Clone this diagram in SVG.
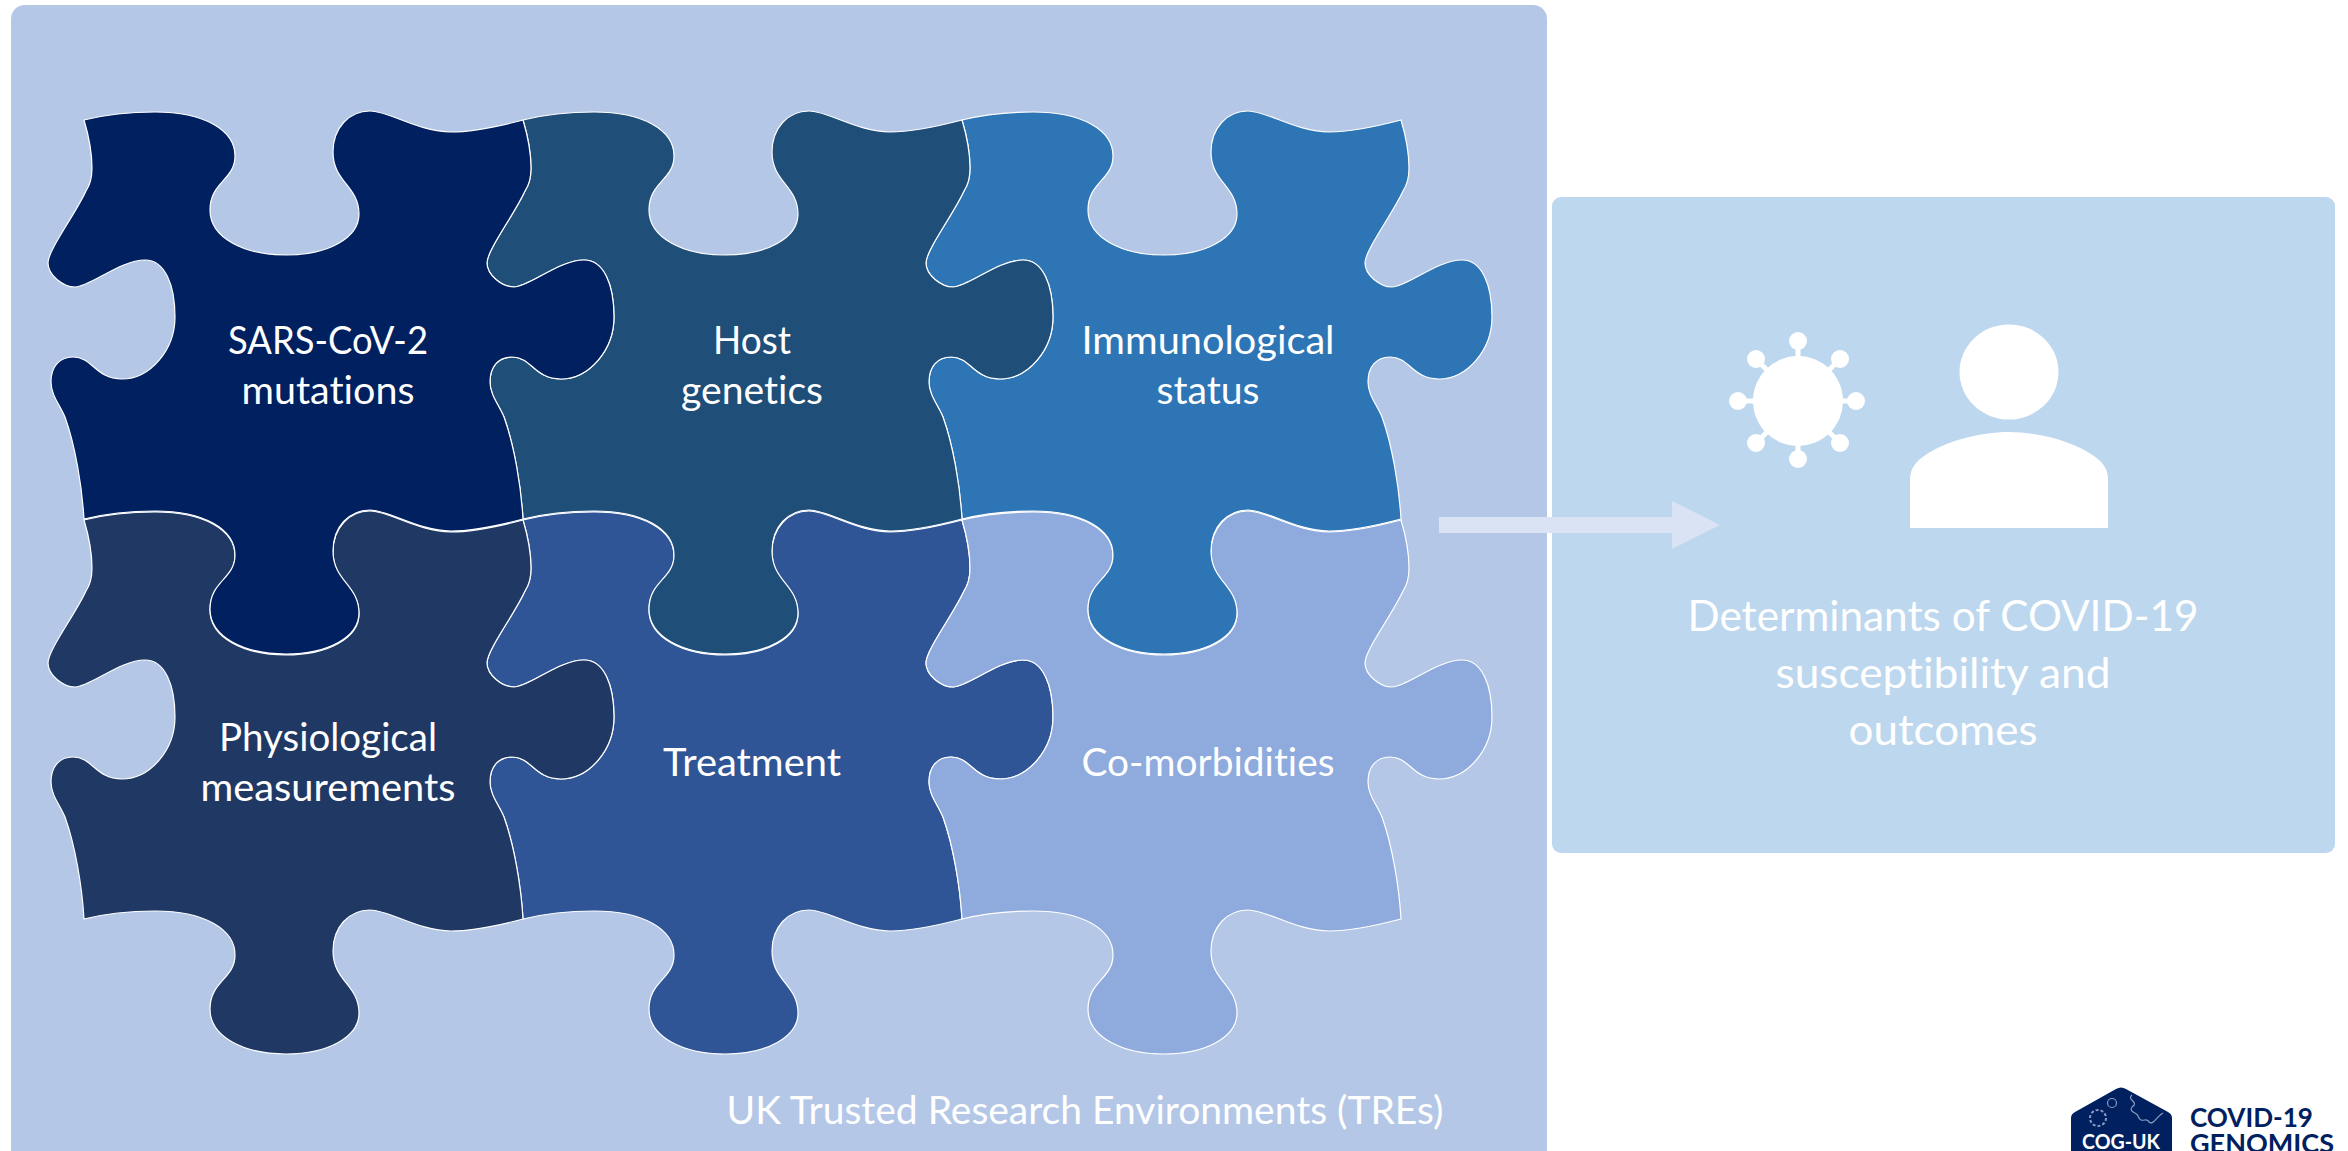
<svg xmlns="http://www.w3.org/2000/svg" width="2348" height="1151" viewBox="0 0 2348 1151">
<style>
text{font-family:"Lato","Carlito","Open Sans",sans-serif;text-anchor:middle;font-variant-ligatures:none}
.lbl{fill:#fff;font-size:38px}
.lt{fill:#fff;font-size:42px}
.p{stroke:#fff;stroke-width:1.2}
.w{fill:#fff}
.s{text-anchor:start}
</style>
<defs>
<path id="piece" d="M0 0C20 -5 45 -8 71 -8C120 -8 151 10 151 36C151 60 126 62 126 90C126 118 160 135 202 135C244 135 275 118 275 94C275 66 249 62 249 32C249 8 265 -9 286 -9C305 -9 335 12 367 12C390 12 420 5 439 0C445 20 447 35 447 48C447 58 445 65 441 71C430 95 403 130 403 143C403 155 418 167 430 167C445 167 475 140 500 140C520 140 530 165 530 197C530 230 505 259 477 259C450 259 448 237 428 237C414 237 406 247 406 262C406 275 415 285 420 297C430 325 437 365 439 399C420 404 390 411 367 411C335 411 305 390 286 390C265 390 249 407 249 431C249 461 275 465 275 493C275 517 244 534 202 534C160 534 126 517 126 489C126 461 151 459 151 435C151 409 120 391 71 391C45 391 20 394 0 399C-2 365 -9 325 -19 297C-24 285 -33 275 -33 262C-33 247 -25 237 -11 237C9 237 11 259 38 259C66 259 91 230 91 197C91 165 81 140 61 140C36 140 6 167 -9 167C-21 167 -36 155 -36 143C-36 130 -9 95 2 71C6 65 8 58 8 48C8 35 6 20 0 0Z"/>
</defs>
<rect id="panel-tre" x="11" y="5" width="1536" height="1160" rx="14" fill="#B4C7E7"/>
<rect id="panel-out" x="1552" y="197" width="783" height="656" rx="9" fill="#BDD7EE"/>
<g id="piece-treatment"><use href="#piece" class="p" x="523" y="520" fill="#2F5597"/></g>
<g id="piece-comorbidities"><use href="#piece" class="p" x="962" y="520" fill="#8FAADC"/></g>
<g id="piece-physiological"><use href="#piece" class="p" x="84" y="520" fill="#203864"/></g>
<g id="piece-immunological"><use href="#piece" class="p" x="962" y="120" fill="#2E75B6"/></g>
<g id="piece-host"><use href="#piece" class="p" x="523" y="120" fill="#1F4E79"/></g>
<g id="piece-sars"><use href="#piece" class="p" x="84" y="120" fill="#002060"/></g>
<g id="labels">
<text class="lbl" x="328" y="354" textLength="200" lengthAdjust="spacingAndGlyphs">SARS-CoV-2</text><text class="lbl" x="328" y="404" textLength="173" lengthAdjust="spacingAndGlyphs">mutations</text>
<text class="lbl" x="752" y="354" textLength="78" lengthAdjust="spacingAndGlyphs">Host</text><text class="lbl" x="752" y="404" textLength="142" lengthAdjust="spacingAndGlyphs">genetics</text>
<text class="lbl" x="1208" y="354" textLength="253" lengthAdjust="spacingAndGlyphs">Immunological</text><text class="lbl" x="1208" y="404" textLength="103" lengthAdjust="spacingAndGlyphs">status</text>
<text class="lbl" x="328" y="751" textLength="218" lengthAdjust="spacingAndGlyphs">Physiological</text><text class="lbl" x="328" y="801" textLength="255" lengthAdjust="spacingAndGlyphs">measurements</text>
<text class="lbl" x="752" y="776" textLength="178" lengthAdjust="spacingAndGlyphs">Treatment</text>
<text class="lbl" x="1208" y="776" textLength="253" lengthAdjust="spacingAndGlyphs">Co-morbidities</text>
</g>
<g id="connectors"><path d="M1439 517H1672V501L1720 525L1672 549V533H1439Z" fill="#DAE3F3"/></g>
<g id="virus">
<circle class="w" cx="1798" cy="401" r="45"/>
<path d="M1798 341V461M1738 401H1858M1756 359L1840 443M1840 359L1756 443" stroke="#fff" stroke-width="5"/>
<circle class="w" cx="1798" cy="341" r="9"/><circle class="w" cx="1798" cy="459" r="9"/><circle class="w" cx="1738" cy="401" r="9"/><circle class="w" cx="1856" cy="401" r="9"/><circle class="w" cx="1756" cy="359" r="9"/><circle class="w" cx="1840" cy="359" r="9"/><circle class="w" cx="1756" cy="443" r="9"/><circle class="w" cx="1840" cy="443" r="9"/>
</g>
<g id="person">
<ellipse class="w" cx="2009" cy="372" rx="49.5" ry="47.5"/>
<path class="w" d="M1910 528V480C1910 468 1916 462 1924 456C1945 441 1980 432 2009 432C2038 432 2073 441 2094 456C2102 462 2108 468 2108 480V528Z"/>
</g>
<g id="out-label">
<text class="lt" x="1943" y="631" textLength="511" lengthAdjust="spacingAndGlyphs">Determinants of COVID-19</text><text class="lt" x="1943" y="688" textLength="335" lengthAdjust="spacingAndGlyphs">susceptibility and</text><text class="lt" x="1943" y="745" textLength="189" lengthAdjust="spacingAndGlyphs">outcomes</text>
</g>
<text id="tre-label" class="lt" x="1085" y="1124" textLength="717" lengthAdjust="spacingAndGlyphs" style="font-size:38px">UK Trusted Research Environments (TREs)</text>
<g id="logo">
<path d="M2071 1118Q2071 1114 2075 1112L2116 1089Q2121 1086 2126 1089L2168 1112Q2172 1114 2172 1118V1151H2071Z" fill="#002060"/>
<g fill="none" stroke="#8d9cc0" stroke-width="1.2">
<circle cx="2098" cy="1118" r="8" stroke-dasharray="3 2" stroke-width="2"/>
<circle cx="2112" cy="1103" r="4.5"/>
<path d="M2132 1095C2126 1100 2140 1102 2132 1107C2128 1112 2138 1113 2138 1116C2141 1125 2147 1116 2149 1122C2153 1126 2157 1116 2163 1113"/>
</g>
<text x="2121" y="1149" fill="#fff" font-size="20" font-weight="700" textLength="78" lengthAdjust="spacingAndGlyphs">COG-UK</text>
<text class="s" x="2190" y="1127" fill="#002060" font-size="27" font-weight="700" textLength="123" lengthAdjust="spacingAndGlyphs">COVID-19</text>
<text class="s" x="2190" y="1153" fill="#002060" font-size="27" font-weight="700" textLength="144" lengthAdjust="spacingAndGlyphs">GENOMICS</text>
</g>
</svg>
